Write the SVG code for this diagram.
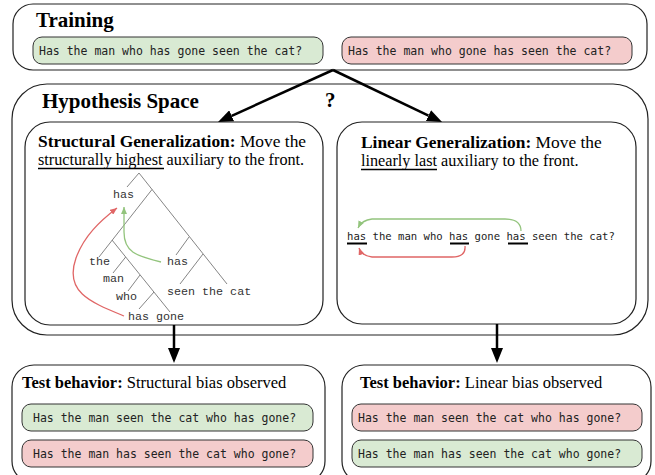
<svg xmlns="http://www.w3.org/2000/svg" width="655" height="475" viewBox="0 0 655 475">
<defs>
<style>
.box{fill:#fff;stroke:#222;stroke-width:1.2}
.pg{fill:#d9ead3;stroke:#333;stroke-width:1}
.pr{fill:#f4cccc;stroke:#333;stroke-width:1}
.mono{font-family:"DejaVu Sans Mono","Liberation Mono",monospace;font-size:11.5px;fill:#222}
.sent{font-family:"DejaVu Sans Mono","Liberation Mono",monospace;font-size:10.6px;fill:#222}
.tree{font-family:"Liberation Mono","Courier New",monospace;font-size:11.7px;fill:#333}
.title{font-family:"Liberation Serif","Times New Roman",serif;font-weight:bold;font-size:21px;fill:#000}
.h1{font-family:"Liberation Serif","Times New Roman",serif;font-size:17.4px;fill:#000}
.h2{font-family:"Liberation Serif","Times New Roman",serif;font-size:16.2px;fill:#000}
.b{font-weight:bold}
.tl{stroke:#777;stroke-width:0.9;fill:none}
.big{stroke:#000;stroke-width:2.5;fill:none}
.ra{stroke:#e06666;stroke-width:1.3;fill:none}
.ga{stroke:#93c47d;stroke-width:1.3;fill:none}
.ul{stroke:#000;stroke-width:1.3}
.ulb{stroke:#000;stroke-width:2}
</style>
<marker id="ah" viewBox="0 0 15 12" refX="0" refY="6" markerWidth="15" markerHeight="12" markerUnits="userSpaceOnUse" orient="auto"><path d="M0,0 L15,6 L0,12 z" fill="#000"/></marker>
<marker id="ahr" viewBox="0 0 7 6" refX="7" refY="3" markerWidth="7" markerHeight="6" markerUnits="userSpaceOnUse" orient="auto"><path d="M0,0 L7,3 L0,6 z" fill="#e06666"/></marker>
<marker id="ahg" viewBox="0 0 7 6" refX="7" refY="3" markerWidth="7" markerHeight="6" markerUnits="userSpaceOnUse" orient="auto"><path d="M0,0 L7,3 L0,6 z" fill="#93c47d"/></marker>
</defs>

<g id="training">
<rect class="box" x="13" y="4" width="634" height="66" rx="20"/>
<text class="title" x="36" y="27">Training</text>
<rect class="pg" x="33" y="37" width="290" height="27" rx="9"/>
<text class="mono" x="39" y="55">Has the man who has gone seen the cat?</text>
<rect class="pr" x="342" y="37" width="290" height="27" rx="9"/>
<text class="mono" x="348" y="55">Has the man who gone has seen the cat?</text>
</g>

<g id="hypothesis">
<rect class="box" x="12" y="84" width="636" height="251" rx="35"/>
<text class="title" x="42" y="108">Hypothesis Space</text>
<text class="title" x="325" y="107">?</text>
</g>

<g id="structural">
<rect class="box" x="25" y="122" width="298" height="203" rx="25"/>
<text class="h1" x="38" y="147"><tspan class="b">Structural Generalization:</tspan> Move the</text>
<text class="h2" x="38" y="165">structurally highest auxiliary to the front.</text>
<line class="ul" x1="38" y1="168.5" x2="164" y2="168.5"/>
<g id="tree">
<path class="tl" d="M139,173 L127,187 M139,173 L227,284 M152,189.5 L99,257 M112,240 L170,312 M125.7,257 L113,273 M140,275 L128,291 M154,292 L139,309 M189,237 L176,255 M203,254 L180,284"/>
<text class="tree" x="113" y="198">has</text>
<text class="tree" x="89" y="265">the</text>
<text class="tree" x="103" y="282">man</text>
<text class="tree" x="116" y="300">who</text>
<text class="tree" x="128" y="320">has gone</text>
<text class="tree" x="167" y="265">has</text>
<text class="tree" x="167" y="295">seen the cat</text>
</g>
</g>

<g id="linear">
<rect class="box" x="337" y="122" width="299" height="202" rx="25"/>
<text class="h1" x="361" y="148"><tspan class="b">Linear Generalization:</tspan> Move the</text>
<text class="h2" x="361" y="166">linearly last auxiliary to the front.</text>
<line class="ul" x1="361" y1="169.5" x2="437" y2="169.5"/>
<text class="sent" x="347" y="240">has the man who has gone has seen the cat?</text>
<line class="ulb" x1="347" y1="243.5" x2="367" y2="243.5"/>
<line class="ulb" x1="450" y1="243.5" x2="469" y2="243.5"/>
<line class="ulb" x1="508" y1="243.5" x2="528" y2="243.5"/>
</g>

<g id="test-structural">
<rect class="box" x="12" y="365" width="313" height="118" rx="22"/>
<text class="h1" x="22" y="388" style="font-size:16.5px"><tspan class="b">Test behavior:</tspan> Structural bias observed</text>
<rect class="pg" x="22" y="404" width="291" height="27" rx="9"/>
<text class="mono" x="33" y="422">Has the man seen the cat who has gone?</text>
<rect class="pr" x="22" y="440" width="291" height="27" rx="9"/>
<text class="mono" x="33" y="458">Has the man has seen the cat who gone?</text>
</g>

<g id="test-linear">
<rect class="box" x="342" y="365" width="309" height="118" rx="22"/>
<text class="h1" x="360" y="388" style="font-size:16.5px"><tspan class="b">Test behavior:</tspan> Linear bias observed</text>
<rect class="pr" x="352" y="404" width="290" height="27" rx="9"/>
<text class="mono" x="358" y="422">Has the man seen the cat who has gone?</text>
<rect class="pg" x="352" y="440" width="290" height="27" rx="9"/>
<text class="mono" x="358" y="458">Has the man has seen the cat who gone?</text>
</g>

<g id="connectors">
<line class="big" x1="333" y1="70" x2="231.7" y2="115.8" marker-end="url(#ah)"/>
<line class="big" x1="333" y1="70" x2="428.5" y2="115.6" marker-end="url(#ah)"/>
<line class="big" x1="174" y1="325" x2="174" y2="348" marker-end="url(#ah)"/>
<line class="big" x1="497" y1="324" x2="497" y2="348" marker-end="url(#ah)"/>
<path class="ra" d="M124,316 C90,302 64,292 76,258 C84,236 100,221 117,208" marker-end="url(#ahr)"/>
<path class="ga" d="M161,262 C136,256 124,252 124,232 L124,207" marker-end="url(#ahg)"/>
<path class="ga" d="M521,231 Q521,219 505,219 L372,219 Q362,220 358,228" marker-end="url(#ahg)"/>
<path class="ra" d="M465,246 Q466,257 452,257 L372,257 Q362,256 359,248" marker-end="url(#ahr)"/>
</g>
</svg>
